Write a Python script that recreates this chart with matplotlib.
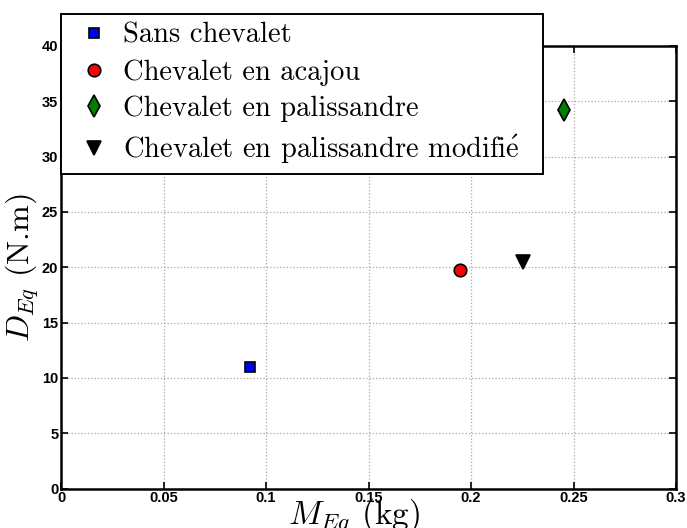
import matplotlib
matplotlib.use('Agg')
import matplotlib.pyplot as plt

plt.rcParams['mathtext.fontset'] = 'cm'
plt.rcParams['axes.unicode_minus'] = False

# Données
series = ['Sans chevalet', 'Chevalet en acajou', 'Chevalet en palissandre',
          'Chevalet en palissandre modifi$\\mathrm{\\acute{e}}$']
m_eq = [0.092, 0.1946, 0.2455, 0.2255]
d_eq = [10.96, 19.8, 34.26, 20.5]

x_ticks = [0, 0.05, 0.1, 0.15, 0.2, 0.25, 0.3]
x_labels = ['0', '0.05', '0.1', '0.15', '0.2', '0.25', '0.3']
y_ticks = [0, 5, 10, 15, 20, 25, 30, 35, 40]

# styles des marqueurs
markers = ['s', 'o', 'd', 'v']
faces = ['#0000ff', '#ff0000', '#008000', '#000000']
sizes = [7, 9, 11, 10]

fig = plt.figure(figsize=(6.87, 5.28), dpi=100)
ax = fig.add_axes([0.0888, 0.0746, 0.8952, 0.8383])

for i in range(len(series)):
    ax.plot(m_eq[i], d_eq[i], linestyle='none', marker=markers[i],
            markersize=sizes[i], markerfacecolor=faces[i],
            markeredgecolor='black', markeredgewidth=1.2, label=series[i])

ax.set_xlim(0, 0.3)
ax.set_ylim(0, 40)
ax.set_xticks(x_ticks)
ax.set_xticklabels(x_labels)
ax.set_yticks(y_ticks)
ax.set_yticklabels([str(v) for v in y_ticks])

for lab in ax.get_xticklabels() + ax.get_yticklabels():
    lab.set_fontfamily('Liberation Sans')
    lab.set_fontweight('bold')
    lab.set_fontsize(10.5)

ax.tick_params(direction='in', length=5, width=1.2, top=True, right=True,
               pad=2, colors='black')
for s in ax.spines.values():
    s.set_linewidth(1.8)
ax.grid(True, linestyle=':', color='#a8a8a8', linewidth=0.9)
ax.set_axisbelow(True)

ax.set_xlabel(r'$M_{Eq}$ (kg)', fontsize=24, family='cmr10')
ax.set_ylabel(r'$D_{Eq}$ (N.m)', fontsize=23, family='cmr10')
ax.xaxis.set_label_coords(0.476, -0.018, transform=ax.transAxes)
ax.xaxis.label.set_va('top')
ax.yaxis.set_label_coords(-0.062, 0.5, transform=ax.transAxes)
ax.yaxis.label.set_va('center')

leg = ax.legend(loc='upper left',
                bbox_to_anchor=(61 / 687, 1 - 169 / 528, 482 / 687, 155 / 528),
                bbox_transform=fig.transFigure, mode='expand', borderaxespad=0,
                prop={'family': 'cmr10', 'size': 20.5}, frameon=True,
                fancybox=False, framealpha=1, edgecolor='black',
                labelspacing=0.36, handlelength=1.75, handletextpad=0.14,
                borderpad=0.3, numpoints=1)
leg.get_frame().set_linewidth(1.4)
leg.set_zorder(10)

fig.savefig('out.png', dpi=100)
